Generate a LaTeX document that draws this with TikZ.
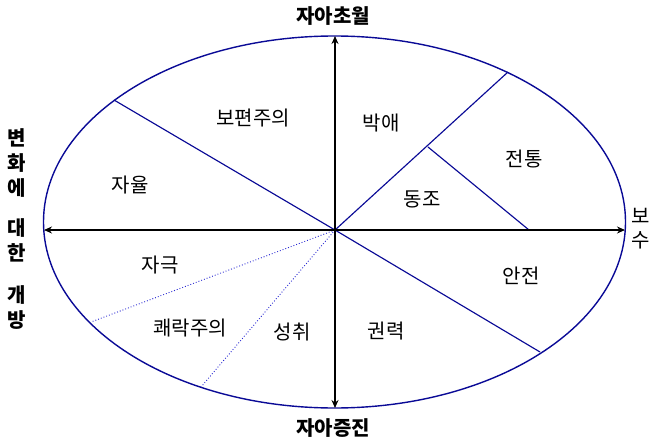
\documentclass[tikz,border=0pt]{standalone}
\usepackage{fontspec}
\newfontfamily\kr{Noto Sans CJK KR}
\usetikzlibrary{arrows.meta, positioning, calc}
\definecolor{ringblue}{RGB}{10, 10, 150}
\definecolor{dotblue}{RGB}{40, 40, 210}

\begin{document}
\begin{tikzpicture}[
  x=1pt, y=-1pt,
  axis/.style={{Stealth[length=8pt,width=7pt]}-{Stealth[length=8pt,width=7pt]}, line width=1.6pt, black},
  ring/.style={draw=ringblue, line width=1.4pt},
  divide/.style={ringblue, line width=1.15pt},
  softdiv/.style={dotblue, line width=0.9pt, dotted},
  val/.style={font=\kr\fontsize{20}{24}\selectfont, inner sep=0pt},
  pole/.style={font=\kr\bfseries\fontsize{20}{25}\selectfont, inner sep=0pt, align=center}
]
  \useasboundingbox (0,0) rectangle (653,444);
  \draw[ring] (334.5,222) ellipse [x radius=291, y radius=186];

  % axis ends and sector points
  \coordinate (o) at (335,230);
  \coordinate (top) at (335,36);
  \coordinate (bot) at (335,408);
  \coordinate (lft) at (44,230);
  \coordinate (rgt) at (625,230);
  \coordinate (ul) at (114,100);
  \coordinate (ur) at (508,72);
  \coordinate (lr) at (540,352);
  \coordinate (ll) at (91,322);
  \coordinate (lb) at (201,387);
  \coordinate (fork) at (428,147);
  \coordinate (forkend) at (529,230);

  \draw[divide] (o) -- (ul);
  \draw[divide] (o) -- (ur);
  \draw[divide] (o) -- (lr);
  \draw[divide] (fork) -- (forkend);
  \draw[softdiv] (o) -- (ll);
  \draw[softdiv] (o) -- (lb);
  \draw[axis] (top) -- (bot);
  \draw[axis] (lft) -- (rgt);

  % value labels
  \node[val] (uni) at (253,118) {보편주의};
  \node[val] (ben) at (381,123) {박애};
  \node[val] (tra) at (524,159) {전통};
  \node[val] (con) at (422,199) {동조};
  \node[val] (sd) at (130,185) {자율};
  \node[val] (sec) at (521,276) {안전};
  \node[val] (sti) at (160,265) {자극};
  \node[val] (hed) at (190,328) {쾌락주의};
  \node[val] (ach) at (292,332) {성취};
  \node[val] (pow) at (386,331) {권력};

  % poles
  \node[pole] (trans) at (333,16) {자아초월};
  \node[pole] (enh) at (333,428) {자아증진};
  \node[val, align=center] (cons) at (641,229) {보\\수};
  \node[pole] (open1) at (17,163) {변\\화\\에};
  \node[pole] (open2) at (17,240) {대\\한};
  \node[pole] (open3) at (17,308) {개\\방};
\end{tikzpicture}
\end{document}
